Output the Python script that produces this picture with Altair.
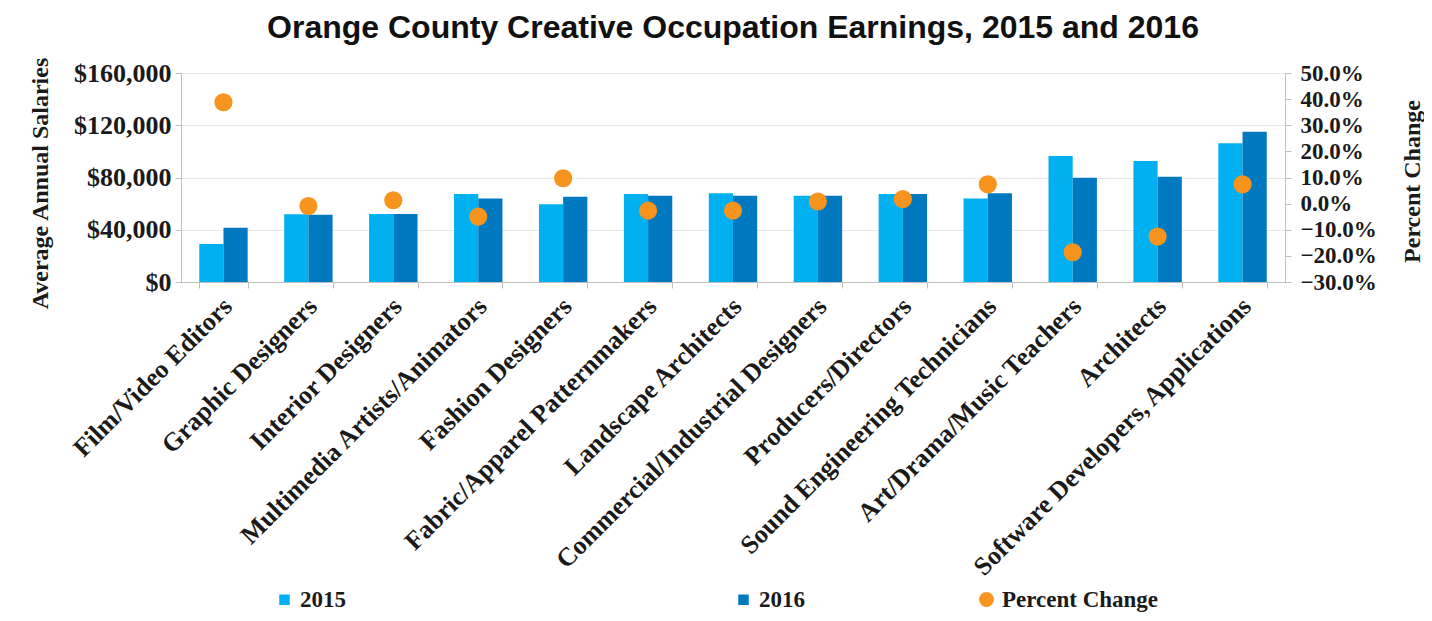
import altair as alt
import pandas as pd

categories = [
    "Film/Video Editors",
    "Graphic Designers",
    "Interior Designers",
    "Multimedia Artists/Animators",
    "Fashion Designers",
    "Fabric/Apparel Patternmakers",
    "Landscape Architects",
    "Commercial/Industrial Designers",
    "Producers/Directors",
    "Sound Engineering Technicians",
    "Art/Drama/Music Teachers",
    "Architects",
    "Software Developers, Applications",
]
salary_2015 = [29000, 51800, 52000, 67400, 59500, 67400, 67900, 66100, 67400, 64000, 96500, 92600, 106200]
salary_2016 = [41500, 51500, 52000, 64000, 65300, 66100, 66100, 66100, 67400, 67900, 79900, 80600, 115100]
pct_change = [0.388, -0.009, 0.013, -0.050, 0.097, -0.027, -0.027, 0.008, 0.017, 0.074, -0.186, -0.126, 0.074]
years = ["2015", "2016"]
salary_ticks = [0, 40000, 80000, 120000, 160000]
pct_ticks = [-0.3, -0.2, -0.1, 0.0, 0.1, 0.2, 0.3, 0.4, 0.5]

n = len(categories)
bars_df = pd.DataFrame({
    "occupation": categories * 2,
    "year": ["2015"] * n + ["2016"] * n,
    "salary": salary_2015 + salary_2016,
})
pct_df = pd.DataFrame({
    "occupation": categories,
    "pct": pct_change,
    "series": ["Percent Change"] * n,
})

SERIF = "Liberation Serif"
TXT = "#1a1a1a"
AXC = "#BFBFBF"

x_enc = alt.X(
    "occupation:N", sort=categories,
    scale=alt.Scale(paddingInner=0.43, paddingOuter=0.215),
    axis=alt.Axis(
        title=None, labelAngle=-45, labelAlign="right", labelBaseline="middle",
        labelFont=SERIF, labelFontSize=26, labelFontWeight="bold", labelColor=TXT,
        labelLimit=700, labelPadding=14, labelOffset=4, labelOverlap=False,
        tickBand="extent", tickSize=6, tickColor=AXC, domainColor=AXC, grid=False,
    ),
)

bars = alt.Chart(bars_df).mark_bar().encode(
    x=x_enc,
    xOffset=alt.XOffset("year:N", sort=years),
    y=alt.Y(
        "salary:Q",
        scale=alt.Scale(domain=[0, 160000], nice=False),
        axis=alt.Axis(
            title="Average Annual Salaries", values=salary_ticks, format="$,.0f",
            labelFont=SERIF, labelFontSize=26, labelFontWeight="bold", labelColor=TXT,
            labelPadding=4, tickSize=6, tickColor=AXC, domainColor=AXC,
            grid=True, gridColor="#E8E8E8",
            titleFont=SERIF, titleFontSize=24, titleFontWeight="bold", titleColor=TXT,
            titleAngle=270, titleX=-141, titleY=110, titleAlign="center", titleBaseline="middle",
        ),
    ),
    color=alt.Color(
        "year:N",
        scale=alt.Scale(domain=years, range=["#00B0F0", "#0079C1"]),
        legend=alt.Legend(
            orient="none", legendX=92, legendY=515, direction="horizontal", title=None,
            symbolType="square", symbolSize=110, symbolStrokeWidth=0,
            labelFont=SERIF, labelFontSize=23, labelFontWeight="bold", labelColor=TXT,
            labelOffset=4, columnPadding=386, labelLimit=300,
        ),
    ),
)

points = alt.Chart(pct_df).mark_circle(size=330, opacity=1).encode(
    x=alt.X("occupation:N", sort=categories),
    y=alt.Y(
        "pct:Q",
        scale=alt.Scale(domain=[-0.3, 0.5], nice=False),
        axis=alt.Axis(
            orient="right", title="Percent Change", values=pct_ticks, format=".1%",
            labelFont=SERIF, labelFontSize=23, labelFontWeight="bold", labelColor=TXT,
            labelPadding=9, labelOverlap=False, tickSize=6, tickColor=AXC, domainColor=AXC,
            grid=False,
            titleFont=SERIF, titleFontSize=24, titleFontWeight="bold", titleColor=TXT,
            titleAngle=270, titleX=127, titleY=108, titleAlign="center", titleBaseline="middle",
        ),
    ),
    color=alt.Color(
        "series:N",
        scale=alt.Scale(domain=["Percent Change"], range=["#F7941E"]),
        legend=alt.Legend(
            orient="none", legendX=794, legendY=515, direction="horizontal", title=None,
            symbolType="circle", symbolSize=220, symbolStrokeWidth=0,
            labelFont=SERIF, labelFontSize=23, labelFontWeight="bold", labelColor=TXT,
            labelOffset=4, labelLimit=300,
        ),
    ),
)

chart = (
    alt.layer(bars, points)
    .resolve_scale(y="independent", color="independent")
    .properties(
        width=1104, height=209,
        autosize=alt.AutoSizeParams(type="none"),
        padding={"left": 173, "top": 65, "right": 139, "bottom": 330},
        title=alt.Title(
            "Orange County Creative Occupation Earnings, 2015 and 2016",
            font="Liberation Sans", fontSize=32, fontWeight="bold", color="#111111",
            anchor="middle", frame="group", offset=12,
        ),
    )
    .configure_view(stroke=AXC)
    .configure(background="white")
)

chart.save("out.html", embed_options={"renderer": "svg", "actions": False})
